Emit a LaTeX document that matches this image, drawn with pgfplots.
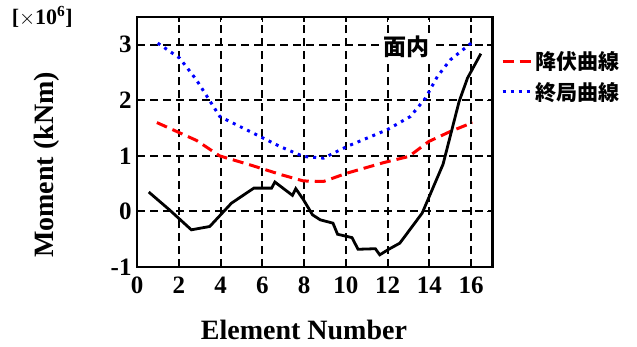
\documentclass[border=0pt]{standalone}
\usepackage{pgfplots}
\pgfplotsset{compat=1.18}
\usepackage{fontspec}
\setmainfont{Liberation Serif}
\newfontfamily\cjk{Noto Sans CJK JP}
\begin{document}
\begin{tikzpicture}
\begin{axis}[
  scale only axis, width=355pt, height=250pt,
  xmin=0, xmax=17, ymin=-1, ymax=3.5,
  xtick={0,2,...,16}, ytick={-1,0,1,2,3},
  /pgf/number format/assume math mode=true,
  ticklabel style={font=\fontsize{25}{27}\selectfont\bfseries},
  xticklabel style={yshift=-6pt},
  yticklabel style={xshift=-2pt},
  xlabel={\textbf{Element Number}}, ylabel={\textbf{Moment (kNm)}},
  label style={font=\fontsize{28}{30}\selectfont},
  xlabel style={at={(rel axis cs:0.47,-0.288)}, anchor=base, inner sep=0pt},
  ylabel style={at={(rel axis cs:-0.254,0.408)}, anchor=center, rotate=0},
  grid=major,
  major grid style={black, line width=2pt, dash pattern=on 8pt off 5pt},
  axis line style={line width=2.8pt},
  tick style={black, line width=1.6pt},
  major tick length=5pt,
  tick align=inside,
  legend image code/.code={\draw[#1] (0pt,0pt) -- (29pt,0pt);},
  legend style={draw=none, fill=none, at={(1.025,0.87)}, anchor=north west,
    font=\fontsize{21}{24}\selectfont\cjk\bfseries, row sep=7pt, inner sep=0pt},
  legend cell align=left,
  clip=false,
]
\addplot[red, line width=3pt, dash pattern=on 11pt off 6pt] coordinates {
(0.95,1.60) (2.84,1.28) (3.96,1.00) (5.4,0.84) (6.92,0.66) (7.96,0.55)
(8.93,0.54) (10.05,0.69) (11.81,0.88) (13.01,0.99) (13.97,1.26) (15.0,1.44) (16.06,1.60)};
\addlegendentry{降伏曲線}
\addplot[blue, line width=3pt, dash pattern=on 3pt off 5pt] coordinates {
(0.99,3.03) (2.04,2.76) (2.84,2.37) (3.96,1.71) (5.72,1.38) (6.84,1.17) (7.96,0.99)
(8.93,0.96) (10.05,1.17) (11.97,1.47) (13.09,1.71) (13.81,2.04) (14.38,2.43) (15.0,2.73) (16.0,3.03)};
\addlegendentry{終局曲線}
\addplot[black, line width=2.8pt, forget plot] coordinates {
(0.56,0.35) (1.55,0.03) (2.6,-0.33) (3.48,-0.27) (4.52,0.15) (5.59,0.42) (6.44,0.42)
(6.6,0.53) (7.44,0.29) (7.6,0.41) (7.97,0.21) (8.4,-0.06) (8.77,-0.15) (9.38,-0.21)
(9.6,-0.41) (10.29,-0.47) (10.58,-0.68) (11.41,-0.67) (11.62,-0.78) (12.05,-0.68)
(12.58,-0.57) (13.65,-0.03) (14.65,0.85) (15.42,1.98) (15.82,2.4) (16.46,2.84)};
\node[fill=white, inner sep=3pt, font=\fontsize{23}{25}\selectfont\cjk\bfseries] at (axis cs:12.9,2.97) {面内};
\node[anchor=center, font=\fontsize{22}{24}\selectfont\bfseries] at (rel axis cs:-0.267,1.0) {[$\times$10$^{\mathbf{6}}$]};
\path (rel axis cs:-0.386,-0.316) rectangle (rel axis cs:1.408,1.068);
\end{axis}
\end{tikzpicture}
\end{document}
